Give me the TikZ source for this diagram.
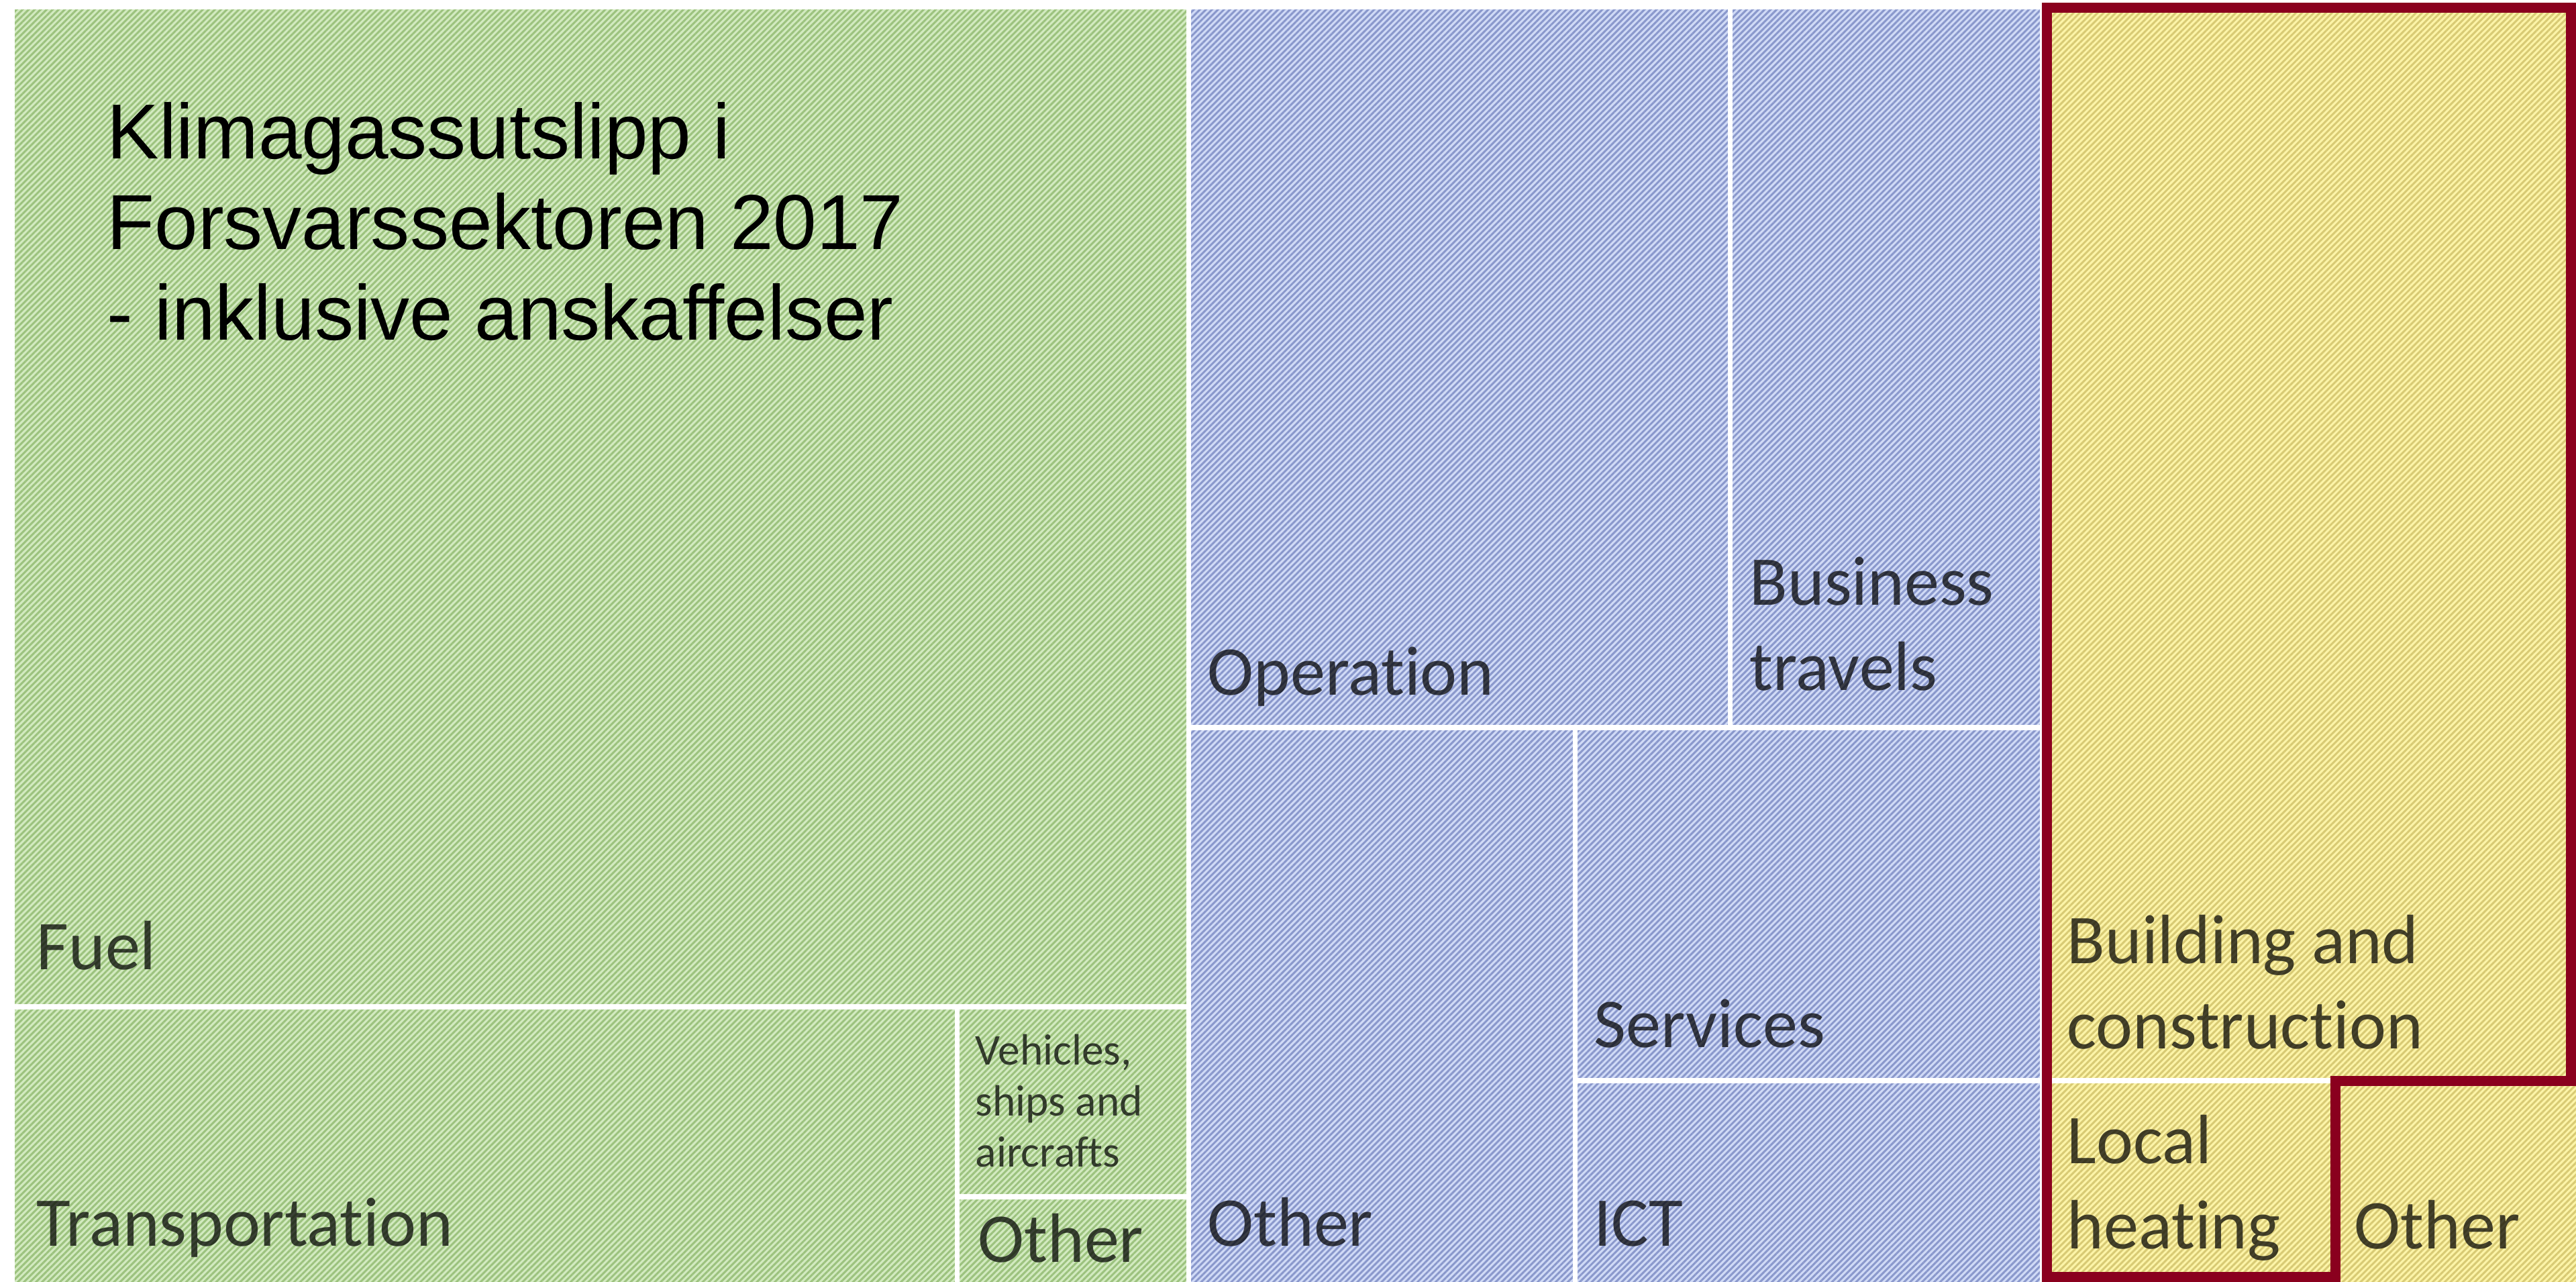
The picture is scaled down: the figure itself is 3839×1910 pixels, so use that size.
\documentclass[tikz,border=0pt]{standalone}
\usepackage{fontspec}
\setmainfont{Carlito}[Ligatures=NoCommon]
\newfontfamily\titlefont{Liberation Sans}
\usetikzlibrary{patterns.meta}

\definecolor{greenbg}{RGB}{210,234,192}
\definecolor{greenln}{RGB}{156,194,126}
\definecolor{bluebg}{RGB}{208,218,246}
\definecolor{blueln}{RGB}{138,152,204}
\definecolor{yellowbg}{RGB}{252,244,168}
\definecolor{yellowln}{RGB}{216,202,116}
\definecolor{framered}{RGB}{138,0,30}

\tikzset{
  cell/.style 2 args={preaction={fill=#1},
    preaction={pattern={Lines[angle=45,distance=1.8pt,line width=0.85pt]},pattern color=#2},
    draw=white,line width=2pt},
  lbl/.style={anchor=base west,inner sep=0pt,align=left,text=black,text opacity=0.72,
    font=\fontsize{29.6}{36.1}\selectfont},
  small lbl/.style={lbl,font=\fontsize{18.6}{21.6}\selectfont},
  heading/.style={anchor=base west,inner sep=0pt,align=left,
    font=\titlefont\fontsize{33}{38.4}\selectfont},
  frame/.style={draw=framered,line width=0.15cm,line join=miter}
}

\begin{document}
\begin{tikzpicture}[x=0.01cm,y=-0.01cm]
\useasboundingbox (0,0) rectangle (3839,1910);
% green
\draw[cell={greenbg}{greenln}] (18,10) rectangle (1771,1500);
\draw[cell={greenbg}{greenln}] (18,1500) rectangle (1426,1930);
\draw[cell={greenbg}{greenln}] (1426,1500) rectangle (1771,1783);
\draw[cell={greenbg}{greenln}] (1426,1783) rectangle (1771,1930);
% blue
\draw[cell={bluebg}{blueln}] (1771,10) rectangle (2578,1084);
\draw[cell={bluebg}{blueln}] (2578,10) rectangle (3043,1084);
\draw[cell={bluebg}{blueln}] (1771,1084) rectangle (2347,1930);
\draw[cell={bluebg}{blueln}] (2347,1084) rectangle (3043,1610);
\draw[cell={bluebg}{blueln}] (2347,1610) rectangle (3043,1930);
% yellow
\draw[cell={yellowbg}{yellowln}] (3043,10) rectangle (3860,1610);
\draw[cell={yellowbg}{yellowln}] (3043,1610) rectangle (3480,1930);
\draw[cell={yellowbg}{yellowln}] (3480,1610) rectangle (3860,1930);

% multi-line nodes sit on the baseline of their last line
\node[heading] (title) at (159,507) {Klimagassutslipp i\\Forsvarssektoren 2017\\- inklusive anskaffelser};

\node[lbl] (fuel) at (54,1444) {Fuel};
\node[lbl] (transport) at (54,1856) {Transportation};
\node[small lbl] (vehicles) at (1453,1738) {Vehicles,\\ships and\\aircrafts};
\node[lbl] (othergreen) at (1457,1880) {Other};
\node[lbl] (operation) at (1799,1036) {Operation};
\node[lbl] (business) at (2607,1028) {Business\\travels};
\node[lbl] (otherblue) at (1799,1856) {Other};
\node[lbl] (services) at (2375,1560) {Services};
\node[lbl] (ict) at (2375,1856) {ICT};
\node[lbl] (building) at (3080,1562) {Building and\\construction};
\node[lbl] (heating) at (3080,1860) {Local\\heating};
\node[lbl] (otheryellow) at (3508,1860) {Other};

\draw[frame] (3050,12) -- (3831,12) -- (3831,1610) -- (3480,1610) -- (3480,1902) -- (3050,1902) -- cycle;
\end{tikzpicture}
\end{document}
